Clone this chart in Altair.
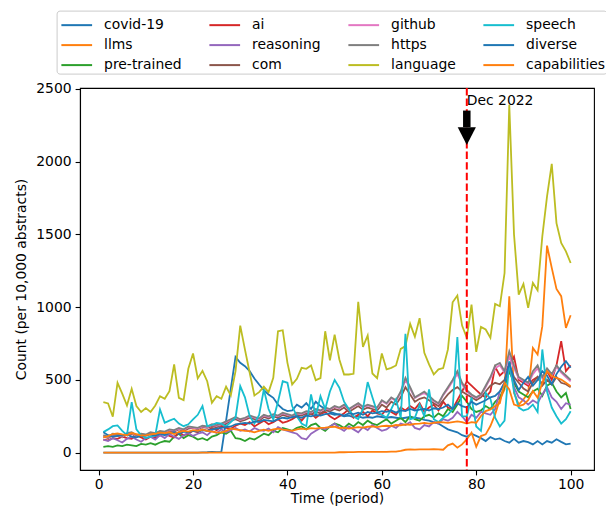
import altair as alt
import pandas as pd

periods = list(range(1, 101))

covid19 = [0,0,0,0,0,0,0,0,0,0,
           0,0,0,0,0,0,0,0,0,0,
           0,2,3,5,4,6,220,440,658,617,
           594,560,510,468,430,400,377,330,300,285,
           290,330,310,340,300,350,320,300,280,270,
           260,250,255,245,250,240,245,240,250,245,
           240,245,240,235,240,245,240,235,225,220,
           210,200,180,160,150,140,120,110,130,115,
           100,80,107,92,98,80,69,95,69,80,
           72,57,80,57,80,69,92,74,57,62]

llms = [0,0,0,0,0,0,0,0,0,0,
        0,0,0,0,0,0,0,0,0,0,
        0,0,0,0,0,0,0,0,0,0,
        0,0,0,0,0,0,0,0,0,0,
        0,0,0,0,0,0,0,0,0,0,
        3,3,4,4,5,5,5,6,6,6,
        6,7,7,12,20,22,21,22,23,22,
        24,22,20,50,62,34,57,92,137,41,
        114,126,183,263,366,434,1075,412,331,366,
        412,720,674,869,1422,1269,1125,1075,857,944]

pre_trained = [40,45,40,50,45,55,50,45,60,55,
               65,55,70,80,75,110,130,100,120,110,
               90,100,85,110,120,140,130,150,100,95,
               80,100,90,110,130,120,150,140,170,160,
               150,170,180,160,190,200,170,150,180,200,
               190,170,200,180,210,190,220,200,190,210,
               230,200,220,240,210,250,230,220,250,260,
               240,270,250,300,280,330,390,350,300,280,
               290,320,300,350,380,450,560,480,420,400,
               380,420,440,390,460,480,420,380,410,300]

ai = [90,85,100,95,110,100,95,120,105,90,
      110,100,120,130,115,105,140,120,130,150,
      140,160,150,170,155,180,170,165,185,200,
      190,210,180,200,220,195,210,230,205,215,
      230,250,220,260,270,240,265,280,250,230,
      250,270,300,240,260,280,250,290,270,260,
      300,280,260,310,290,320,300,340,280,310,
      330,290,350,310,300,360,420,490,460,430,
      400,380,420,590,530,560,600,660,500,480,
      460,500,520,470,560,500,600,766,560,600]

reasoning = [90,80,100,85,70,95,110,90,75,100,
             110,90,120,100,130,110,95,120,135,115,
             130,140,120,150,135,160,140,155,170,150,
             160,145,170,155,150,165,140,175,160,150,
             140,130,100,92,130,150,170,160,180,200,
             170,150,180,160,140,175,155,190,170,150,
             160,185,170,200,190,210,170,160,190,180,
             210,200,230,220,240,280,250,210,260,240,
             280,270,260,300,420,480,600,450,380,360,
             330,360,340,400,450,380,350,300,340,330]

com = [110,100,120,115,105,125,130,110,120,115,
       130,125,140,135,150,145,160,150,165,170,
       160,175,170,180,175,190,200,220,230,215,
       225,240,230,220,245,235,250,240,260,250,
       240,260,255,270,265,280,270,290,285,300,
       290,310,280,300,320,295,310,300,290,330,
       310,350,330,380,450,400,350,370,380,360,
       340,320,360,400,430,450,420,400,380,360,
       380,420,460,480,470,500,600,520,480,440,
       420,480,520,460,500,470,520,480,470,450]

github = [115,105,125,120,110,130,135,115,125,120,
          135,130,145,140,155,150,165,155,175,170,
          165,180,175,190,185,195,210,225,240,225,
          235,250,240,230,255,245,260,250,270,260,
          250,270,265,280,275,295,285,305,295,315,
          305,325,295,315,335,310,325,315,305,355,
          335,375,355,410,500,440,375,395,410,385,
          355,335,395,440,490,540,470,420,395,375,
          395,450,510,580,600,550,660,580,510,490,
          470,540,580,510,570,530,590,550,520,490]

https = [120,110,130,125,115,135,140,120,130,125,
         140,135,150,145,160,155,170,160,180,175,
         170,185,180,195,190,200,215,230,245,230,
         240,255,245,235,260,250,265,255,275,265,
         255,275,270,285,280,300,290,310,300,320,
         310,330,300,320,340,315,330,320,310,360,
         340,380,360,420,514,450,380,400,420,390,
         360,340,400,450,500,560,480,430,400,380,
         400,460,520,600,617,560,697,600,520,500,
         480,560,600,520,580,540,600,560,530,500]

language = [347,338,247,480,405,324,439,320,279,306,
            279,324,388,370,423,606,377,361,576,681,
            510,562,491,343,388,370,453,393,560,873,
            708,549,393,416,453,416,514,834,841,617,
            468,507,583,576,599,498,512,834,635,811,
            640,537,537,542,1036,727,805,544,512,681,
            572,583,599,713,732,885,796,924,686,606,
            537,572,581,709,1033,1079,873,789,1017,693,
            864,846,789,1022,1006,1234,2389,1500,1086,1159,
            995,1166,1116,1486,1760,1984,1577,1440,1383,1303]

speech = [141,160,182,187,150,120,347,160,120,100,
          110,120,297,205,220,233,200,182,195,228,
          260,320,182,190,205,200,180,210,240,457,
          380,251,200,260,434,300,228,350,491,480,
          320,250,200,182,400,250,388,300,420,500,
          446,350,300,250,230,300,485,380,280,260,
          240,300,366,240,816,230,240,330,250,434,
          230,210,240,260,300,795,250,250,380,180,
          150,412,370,240,180,220,629,420,310,290,
          300,330,280,709,420,310,250,200,230,285]

diverse = [140,120,110,115,120,125,110,105,115,120,
           125,115,130,120,135,140,130,145,140,150,
           145,155,150,160,165,170,175,180,195,200,
           205,200,215,210,225,220,215,230,240,235,
           245,250,240,255,250,260,255,265,270,260,
           265,255,270,265,275,260,280,270,275,285,
           280,290,275,290,285,300,290,295,300,290,
           305,300,310,330,300,340,320,310,350,330,
           345,360,380,390,420,480,620,500,430,480,
           520,460,500,560,530,470,540,590,628,583]

capabilities = [105,114,128,132,125,120,135,128,118,120,
                125,130,138,135,140,128,142,150,145,155,
                150,158,150,145,140,138,150,165,160,155,
                150,148,140,150,158,150,160,165,158,155,
                150,160,165,160,168,165,170,172,175,178,
                168,172,165,170,175,172,178,180,175,182,
                185,183,190,188,195,192,198,200,205,200,
                205,210,208,205,210,215,210,200,210,206,
                252,286,297,320,340,480,434,331,320,330,
                360,423,377,480,560,526,514,503,480,457]

series_names = ["covid-19", "llms", "pre-trained", "ai", "reasoning", "com",
                "github", "https", "language", "speech", "diverse", "capabilities"]
series_colors = ["#1f77b4", "#ff7f0e", "#2ca02c", "#d62728", "#9467bd", "#8c564b",
                 "#e377c2", "#7f7f7f", "#bcbd22", "#17becf", "#1f77b4", "#ff7f0e"]
series_values = [covid19, llms, pre_trained, ai, reasoning, com,
                 github, https, language, speech, diverse, capabilities]

event_period = [78]
event_label = ["Dec 2022"]

rows = []
for k, (name, vals) in enumerate(zip(series_names, series_values)):
    for t, v in zip(periods, vals):
        rows.append({"period": t, "count": v, "term": name, "k": k})
df = pd.DataFrame(rows)

FONT = "DejaVu Sans"
xscale = alt.Scale(domain=[-3.95, 104.95], nice=False, zero=False)
yscale = alt.Scale(domain=[-119, 2505], nice=False, zero=False)

lines = alt.Chart(df).mark_line(strokeWidth=1.8, clip=True).encode(
    x=alt.X("period:Q", scale=xscale,
            axis=alt.Axis(title="Time (period)", values=[0, 20, 40, 60, 80, 100],
                          labelPadding=3, titleY=32.5, titleBaseline="alphabetic")),
    y=alt.Y("count:Q", scale=yscale,
            axis=alt.Axis(title="Count (per 10,000 abstracts)", format="d",
                          values=[0, 500, 1000, 1500, 2000, 2500],
                          titleX=-52, titleBaseline="bottom")),
    color=alt.Color("term:N",
                    scale=alt.Scale(domain=series_names, range=series_colors),
                    legend=alt.Legend(title=None, orient="none", legendX=-23.4, legendY=-77.4,
                                      columns=4, symbolType="M-0.81,0L1.75,0", symbolSize=576,
                                      symbolStrokeWidth=2, labelFontSize=13.9, labelFont=FONT,
                                      labelColor="black",
                                      labelOffset=20, columnPadding=23, rowPadding=-1.8,
                                      padding=1.5, strokeColor="#cccccc", fillColor="white",
                                      cornerRadius=3, labelLimit=200)),
    detail="k:N",
    order="k:Q",
)

ev = pd.DataFrame({"period": event_period, "label": event_label,
                   "shaft_top": [2350], "shaft_bot": [2236], "head": [2175], "text_y": [2390]})

vline = alt.Chart(ev).mark_rule(color="#ff0000", strokeWidth=2, strokeDash=[7.4, 3.2]).encode(
    x="period:Q"
)
shaft = alt.Chart(ev).mark_rule(color="black", strokeWidth=7.5).encode(
    x="period:Q", y="shaft_top:Q", y2="shaft_bot:Q"
)
head = alt.Chart(ev).mark_point(shape="M-1,-0.98L1,-0.98L0,0.98Z", filled=True, color="black",
                                opacity=1, size=330).encode(
    x="period:Q", y="head:Q"
)
label = alt.Chart(ev).mark_text(align="left", baseline="alphabetic", fontSize=13.9, font=FONT,
                                color="black", dx=0).encode(
    x="period:Q", y="text_y:Q", text="label:N"
)

chart = alt.layer(lines, vline, shaft, head, label).properties(
    width=514, height=382,
    autosize=alt.AutoSizeParams(type="none"),
    padding={"left": 72, "top": 80, "right": 12, "bottom": 36},
).configure_view(
    stroke="black", strokeWidth=1.1
).configure_axis(
    grid=False, domainColor="black", domainWidth=1.1, tickColor="black", tickWidth=1.1,
    tickSize=4.9, labelPadding=4, labelFont=FONT, labelFontSize=13.9, labelColor="black",
    titleFont=FONT, titleFontSize=13.9, titleFontWeight="normal", titleColor="black"
)

chart.save("out.html", embed_options={"renderer": "svg", "actions": False})
